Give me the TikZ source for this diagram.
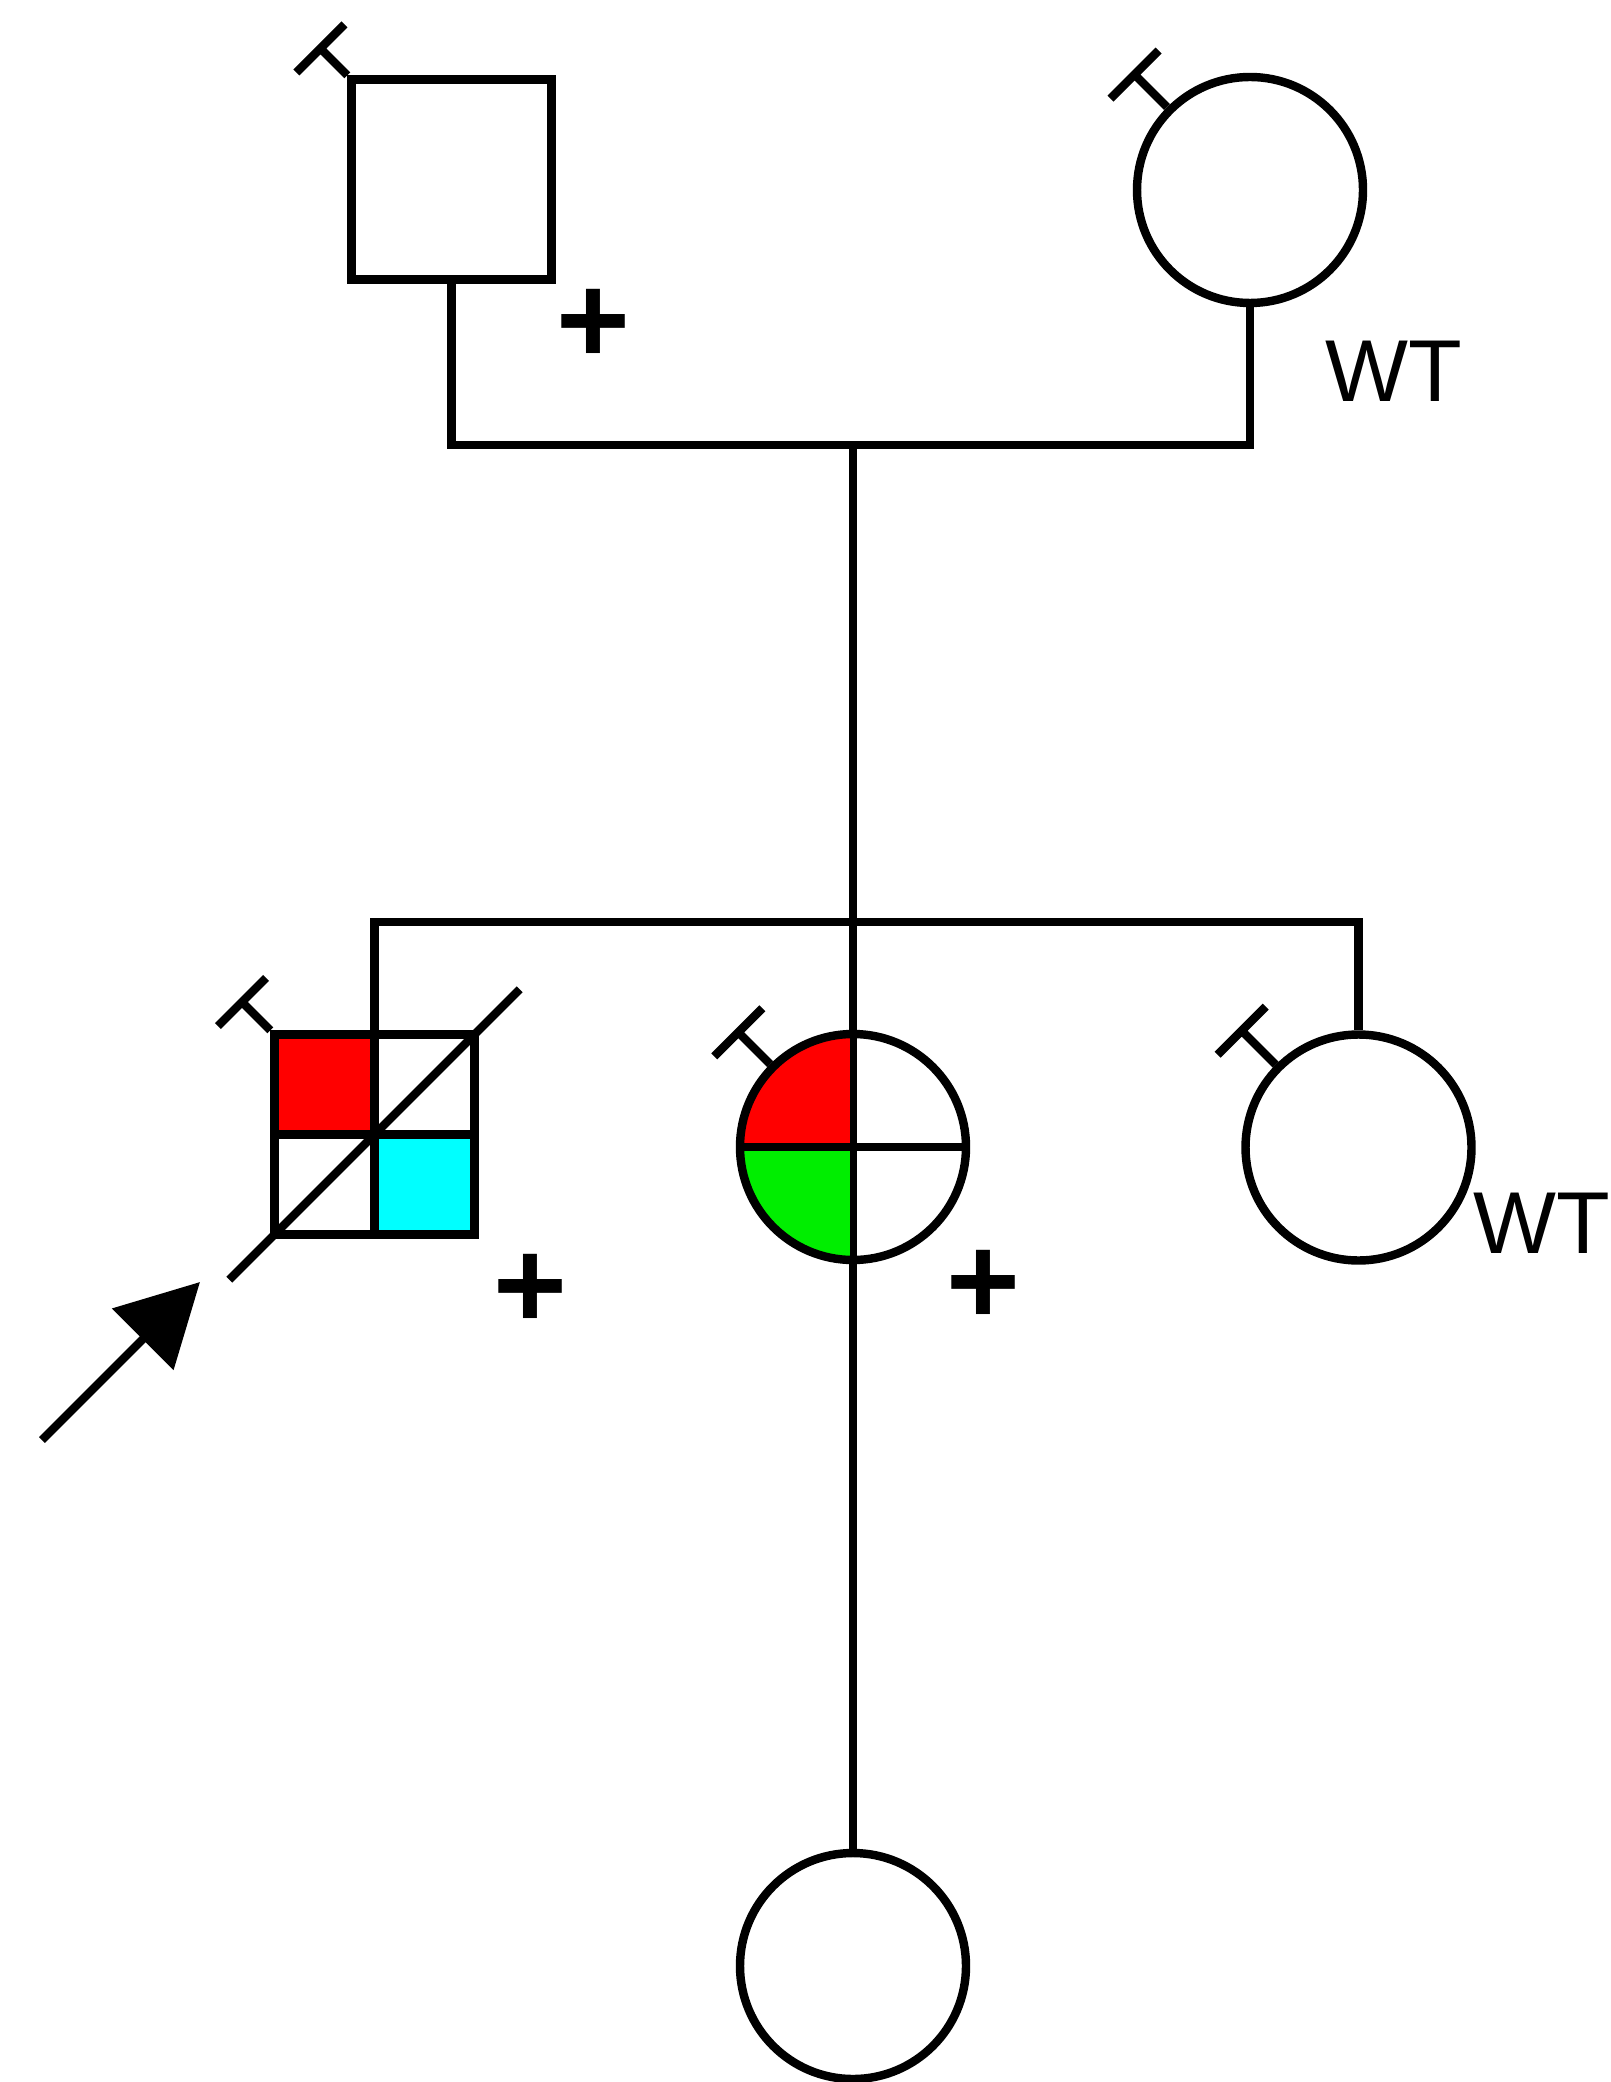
\documentclass[tikz,border=0pt]{standalone}
\usepackage{fontspec}
\setmainfont{Liberation Sans}
\usetikzlibrary{arrows.meta}

\definecolor{quadred}{RGB}{255,0,0}
\definecolor{quadcyan}{RGB}{0,255,255}
\definecolor{quadgreen}{RGB}{0,238,0}

\tikzset{
  pedline/.style={line width=2.4pt},
  male/.style={draw, line width=2.4pt, rectangle, minimum size=2cm, inner sep=0pt},
  female/.style={draw, line width=2.4pt, circle, minimum size=2.26cm, inner sep=0pt},
  sign/.style={font=\fontsize{36}{36}\selectfont\bfseries, inner sep=0pt},
  wt/.style={font=\fontsize{25}{25}\selectfont, inner sep=0pt}
}

% evaluated mark: stem and bar at the upper left
\newcommand{\evalmark}[2]{%
  \draw[pedline] (#1) -- ++(135:#2) ++(45:0.34) -- ++(225:0.68);}

\begin{document}
\begin{tikzpicture}

\useasboundingbox (0,0) rectangle (16.1,-20.82);

% parents
\node[male]   (father) at (4.515,-1.795) {};
\node[female] (mother) at (12.50,-1.90)  {};

% children
\node[male, path picture={
    \fill[quadred]  (path picture bounding box.north west) rectangle (path picture bounding box.center);
    \fill[quadcyan] (path picture bounding box.center) rectangle (path picture bounding box.south east);
    \draw[pedline] (path picture bounding box.north) -- (path picture bounding box.south)
                   (path picture bounding box.west) -- (path picture bounding box.east);
  }] (proband) at (3.745,-11.345) {};

\node[female, path picture={
    \fill[quadred]   (path picture bounding box.north west) rectangle (path picture bounding box.center);
    \fill[quadgreen] (path picture bounding box.west) rectangle (path picture bounding box.south);
    \draw[line width=2pt] (path picture bounding box.north) -- (path picture bounding box.south)
                   (path picture bounding box.west) -- (path picture bounding box.east);
  }] (sister) at (8.53,-11.47) {};

\node[female] (sister2) at (13.585,-11.475) {};

% next generation
\node[female] (niece) at (8.53,-19.66) {};

% lines of descent
\coordinate (couple) at (8.53,-4.45);
\coordinate (sibs)   at (8.53,-9.22);

\draw[pedline] (father.south) |- (couple) -| (mother.south)
               (couple) -- (sibs)
               (proband.north) |- (sibs) -| (sister2.north)
               (sibs) -- (sister.north)
               (sister.south) -- (niece.north);

% evaluated marks
\evalmark{father.north west}{0.38}
\evalmark{mother.135}{0.46}
\evalmark{proband.north west}{0.40}
\evalmark{sister.135}{0.45}
\evalmark{sister2.135}{0.48}

% deceased
\draw[pedline, shorten <=-0.58cm, shorten >=-0.58cm] (proband.south west) -- (proband.north east);

% proband arrow
\coordinate (ptail) at (0.42,-14.40);
\coordinate (ptip)  at (2.00,-12.82);
\draw[pedline, -{Triangle[length=0.81cm, width=0.85cm]}] (ptail) -- (ptip);

% labels
\node[sign] (plusA) at (5.93,-3.26)  {+};
\node[sign] (plusB) at (5.30,-12.91) {+};
\node[sign] (plusC) at (9.835,-12.87) {+};
\node[wt] (wtA) at (13.94,-3.715) {WT};
\node[wt, anchor=west] (wtB) at (14.73,-12.235) {WT};

\end{tikzpicture}
\end{document}
